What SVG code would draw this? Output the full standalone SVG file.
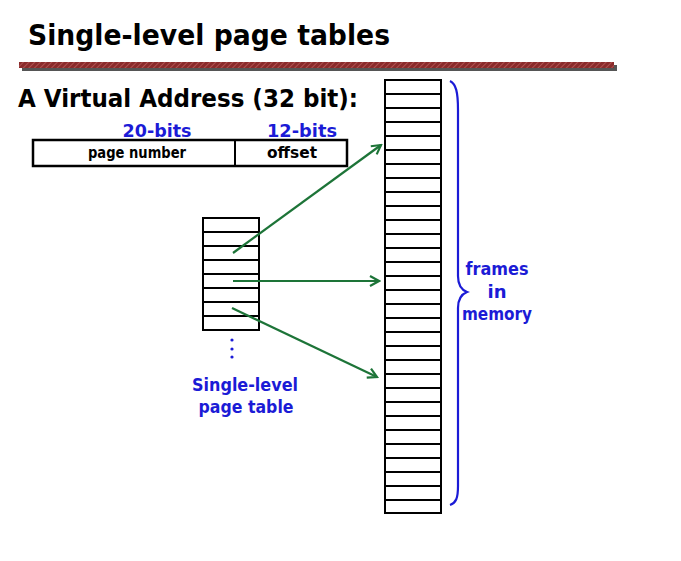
<svg xmlns="http://www.w3.org/2000/svg" width="681" height="561" viewBox="0 0 681 561">
<defs>
<style>
.t{font-family:"DejaVu Sans","Liberation Sans",sans-serif;}
.b{font-weight:bold;}
.blue{fill:#1b1bd6;}
.blk{fill:#000;}
.cell{fill:#fff;stroke:#000;stroke-width:2;}
.rl{stroke:#000;stroke-width:2;fill:none;}
.arr{stroke:#1d7438;stroke-width:2.2;fill:none;marker-end:url(#ah);}
</style>
<marker id="ah" viewBox="0 0 12 12" refX="10" refY="6" markerWidth="12" markerHeight="12" markerUnits="userSpaceOnUse" orient="auto">
<path d="M1,1 L10,6 L1,11" fill="none" stroke="#1d7438" stroke-width="2.2"/>
</marker>
<pattern id="hatch" width="4" height="4" patternUnits="userSpaceOnUse" patternTransform="rotate(45)">
<rect width="4" height="4" fill="#8a2b2b"/>
<line x1="0" y1="0" x2="0" y2="4" stroke="#c86a6a" stroke-width="1.2"/>
</pattern>
</defs>
<rect width="681" height="561" fill="#fff"/>

<g id="title">
<text class="t blk" x="28" y="45" font-size="28" font-weight="bold" textLength="362" lengthAdjust="spacingAndGlyphs">Single-level page tables</text>
<rect x="22" y="65" width="595" height="6" fill="#555"/>
<rect x="19" y="62" width="595" height="6" fill="url(#hatch)"/>
</g>

<g id="va-label">
<text class="t blk" x="18" y="107" font-size="24" font-weight="bold" textLength="340" lengthAdjust="spacingAndGlyphs">A Virtual Address (32 bit):</text>
</g>

<g id="virtual-address">
<text class="t b blue" x="157" y="137" font-size="18" text-anchor="middle" textLength="69" lengthAdjust="spacingAndGlyphs">20-bits</text>
<text class="t b blue" x="302" y="137" font-size="18" text-anchor="middle" textLength="70" lengthAdjust="spacingAndGlyphs">12-bits</text>
<rect x="33" y="140" width="314" height="26" fill="#fff" stroke="#000" stroke-width="2.5"/>
<line x1="235" y1="140" x2="235" y2="166" stroke="#000" stroke-width="2"/>
<text class="t b blk" x="137" y="158" font-size="15" text-anchor="middle" textLength="98" lengthAdjust="spacingAndGlyphs">page number</text>
<text class="t b blk" x="292" y="158" font-size="15" text-anchor="middle" textLength="50" lengthAdjust="spacingAndGlyphs">offset</text>
</g>

<g id="page-table">
<rect class="cell" x="203" y="218" width="56" height="112"/>
<path class="rl" d="M203,232H259M203,246H259M203,260H259M203,274H259M203,288H259M203,302H259M203,316H259"/>
<circle cx="232" cy="340" r="1.6" fill="#1b1bd6"/>
<circle cx="232" cy="349" r="1.6" fill="#1b1bd6"/>
<circle cx="232" cy="357" r="1.6" fill="#1b1bd6"/>
<text class="t b blue" x="245" y="391" font-size="18" text-anchor="middle" textLength="106" lengthAdjust="spacingAndGlyphs">Single-level</text>
<text class="t b blue" x="246" y="413" font-size="18" text-anchor="middle" textLength="95" lengthAdjust="spacingAndGlyphs">page table</text>
</g>

<g id="memory">
<rect class="cell" x="385" y="80" width="56" height="433"/>
<path class="rl" d="M385,94H441M385,108H441M385,122H441M385,136H441M385,150H441M385,164H441M385,178H441M385,192H441M385,206H441M385,220H441M385,234H441M385,248H441M385,262H441M385,276H441M385,290H441M385,304H441M385,318H441M385,332H441M385,346H441M385,360H441M385,374H441M385,388H441M385,402H441M385,416H441M385,430H441M385,444H441M385,458H441M385,472H441M385,486H441M385,500H441"/>
<path d="M450,81 C456,84 458,92 458,110 L458,276 C458,286 462,290 467,292 C462,294 458,298 458,308 L458,486 C458,498 456,503 450,505" fill="none" stroke="#1b1bd6" stroke-width="2.2"/>
<text class="t b blue" x="497" y="275" font-size="18" text-anchor="middle" textLength="63" lengthAdjust="spacingAndGlyphs">frames</text>
<text class="t b blue" x="497" y="298" font-size="18" text-anchor="middle">in</text>
<text class="t b blue" x="497" y="320" font-size="18" text-anchor="middle" textLength="70" lengthAdjust="spacingAndGlyphs">memory</text>
</g>

<g id="connectors">
<line class="arr" x1="233" y1="253" x2="381" y2="145"/>
<line class="arr" x1="233" y1="281" x2="379" y2="281"/>
<line class="arr" x1="232" y1="308" x2="377" y2="377"/>
</g>
</svg>
